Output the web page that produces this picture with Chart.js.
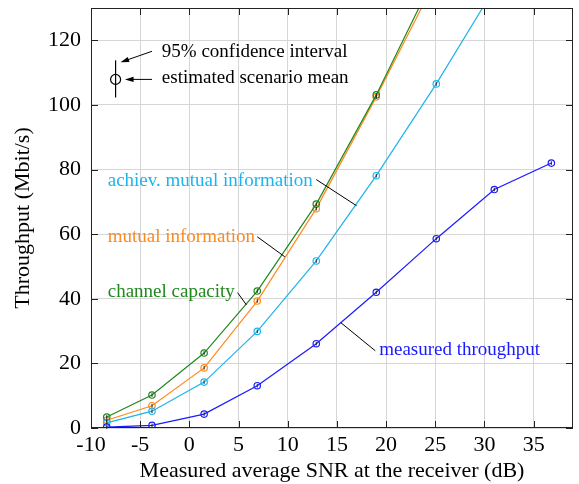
<!DOCTYPE html>
<html>
<head>
<meta charset="utf-8">
<script src="https://cdn.jsdelivr.net/npm/chart.js@4"></script>
<style>
  html, body { margin: 0; padding: 0; background: #fff; }
</style>
</head>
<body>
<canvas id="snrChart" width="579" height="484"></canvas>
<script>
'use strict';

// measured SNR per scenario (dB)
let snrValues = [-8.4, -3.8, 1.5, 6.9, 12.9, 19.0, 25.1, 31.0, 36.8];

// throughput curves (Mbit/s)
let measuredThroughput = [0.3, 0.8, 4.3, 13.1, 26.1, 42.0, 58.6, 73.8, 82.0];
let achievMutualInfo = [1.6, 5.2, 14.2, 29.9, 51.7, 78.1, 106.5, 136];
let mutualInfo = [2.4, 6.9, 18.6, 39.3, 67.9, 102.5, 139];
let channelCapacity = [3.4, 10.2, 23.2, 42.4, 69.3, 103.1, 141];

// axis ticks
let xTicks = [-10, -5, 0, 5, 10, 15, 20, 25, 30, 35];
let yTicks = [0, 20, 40, 60, 80, 100, 120];

let blue = '#1a1aff';
let lightBlue = '#1cb4ec';
let orange = '#ff8a1c';
let green = '#21871f';
let serif = '"Liberation Serif", "DejaVu Serif", serif';

function toPoints(values) {
    let pts = [];
    for (let i = 0; i < values.length; i++) {
        pts.push({ x: snrValues[i], y: values[i] });
    }
    return pts;
}

function makeSeries(label, values, color) {
    return {
        label: label,
        data: toPoints(values),
        borderColor: color,
        backgroundColor: '#fff',
        borderWidth: 1.2,
        pointRadius: 3.2,
        pointBorderWidth: 1.2,
        pointBackgroundColor: 'rgba(255,255,255,0)',
        pointBorderColor: color,
        tension: 0,
        clip: 0
    };
}

// curve labels and leader lines, in data units
let curveLabels = [
    { text: 'achiev. mutual information', color: lightBlue, x: -8.3, y: 76.6, from: [12.9, 76.9], to: [17.0, 68.8] },
    { text: 'mutual information', color: orange, x: -8.3, y: 59.2, from: [6.9, 59.2], to: [9.7, 53.0] },
    { text: 'channel capacity', color: green, x: -8.3, y: 42.2, from: [4.9, 41.9], to: [5.8, 38.1] },
    { text: 'measured throughput', color: blue, x: 19.3, y: 24.2, from: [15.4, 32.6], to: [18.9, 23.9] }
];

function arrow(ctx, x1, y1, x2, y2) {
    let ang = Math.atan2(y2 - y1, x2 - x1);
    let len = 9;
    ctx.beginPath();
    ctx.moveTo(x1, y1);
    ctx.lineTo(x2 - Math.cos(ang) * 4, y2 - Math.sin(ang) * 4);
    ctx.stroke();
    ctx.beginPath();
    ctx.moveTo(x2, y2);
    ctx.lineTo(x2 - len * Math.cos(ang - 0.3), y2 - len * Math.sin(ang - 0.3));
    ctx.lineTo(x2 - len * Math.cos(ang + 0.3), y2 - len * Math.sin(ang + 0.3));
    ctx.closePath();
    ctx.fill();
}

let decorations = {
    id: 'decorations',
    afterDatasetsDraw(chart) {
        let ctx = chart.ctx;
        let xs = chart.scales.x;
        let ys = chart.scales.y;
        let area = chart.chartArea;

        ctx.save();
        // small confidence bars inside every marker
        chart.data.datasets.forEach(function (ds, i) {
            let meta = chart.getDatasetMeta(i);
            ctx.strokeStyle = '#222';
            ctx.lineWidth = 1;
            meta.data.forEach(function (pt) {
                if (pt.y < area.top || pt.y > area.bottom) return;
                ctx.beginPath();
                ctx.moveTo(pt.x, pt.y - 1.8);
                ctx.lineTo(pt.x, pt.y + 1.8);
                ctx.stroke();
            });
        });

        // frame and inward ticks
        ctx.strokeStyle = '#222';
        ctx.lineWidth = 1;
        ctx.strokeRect(area.left + 0.5, area.top + 0.5, area.right - area.left - 1, area.bottom - area.top - 1);
        ctx.beginPath();
        xTicks.forEach(function (v) {
            let px = Math.round(xs.getPixelForValue(v)) + 0.5;
            ctx.moveTo(px, area.bottom);
            ctx.lineTo(px, area.bottom - 7);
            ctx.moveTo(px, area.top);
            ctx.lineTo(px, area.top + 7);
        });
        yTicks.forEach(function (v) {
            let py = Math.round(ys.getPixelForValue(v)) + 0.5;
            ctx.moveTo(area.left, py);
            ctx.lineTo(area.left + 7, py);
            ctx.moveTo(area.right, py);
            ctx.lineTo(area.right - 7, py);
        });
        ctx.stroke();

        // curve labels
        ctx.font = '19px ' + serif;
        ctx.textBaseline = 'middle';
        ctx.textAlign = 'left';
        curveLabels.forEach(function (lab) {
            ctx.fillStyle = lab.color;
            ctx.fillText(lab.text, xs.getPixelForValue(lab.x), ys.getPixelForValue(lab.y));
            ctx.strokeStyle = '#000';
            ctx.lineWidth = 1;
            ctx.beginPath();
            ctx.moveTo(xs.getPixelForValue(lab.from[0]), ys.getPixelForValue(lab.from[1]));
            ctx.lineTo(xs.getPixelForValue(lab.to[0]), ys.getPixelForValue(lab.to[1]));
            ctx.stroke();
        });

        // legend key for the marker symbol
        ctx.fillStyle = '#000';
        ctx.strokeStyle = '#000';
        ctx.lineWidth = 1.2;
        ctx.fillText('95% confidence interval', xs.getPixelForValue(-2.8), ys.getPixelForValue(116.3));
        ctx.fillText('estimated scenario mean', xs.getPixelForValue(-2.8), ys.getPixelForValue(108.2));
        let cx = xs.getPixelForValue(-7.5);
        let cy = ys.getPixelForValue(107.9);
        ctx.beginPath();
        ctx.moveTo(cx, ys.getPixelForValue(113.8));
        ctx.lineTo(cx, ys.getPixelForValue(102.3));
        ctx.stroke();
        ctx.beginPath();
        ctx.arc(cx, cy, 5, 0, Math.PI * 2);
        ctx.stroke();
        ctx.lineWidth = 1;
        arrow(ctx, xs.getPixelForValue(-3.8), ys.getPixelForValue(116.6), xs.getPixelForValue(-7.0), ys.getPixelForValue(113.2));
        arrow(ctx, xs.getPixelForValue(-3.8), cy, xs.getPixelForValue(-6.55), cy);
        ctx.restore();
    }
};

let ctx = document.getElementById('snrChart').getContext('2d');
new Chart(ctx, {
    type: 'line',
    data: {
        datasets: [
            makeSeries('measured throughput', measuredThroughput, blue),
            makeSeries('achiev. mutual information', achievMutualInfo, lightBlue),
            makeSeries('channel capacity', channelCapacity, green),
            makeSeries('mutual information', mutualInfo, orange)
        ]
    },
    plugins: [decorations],
    options: {
        responsive: false,
        animation: false,
        layout: { padding: { left: 0, right: 6, top: 8, bottom: 0 } },
        plugins: {
            legend: { display: false },
            tooltip: { enabled: false }
        },
        scales: {
            x: {
                type: 'linear',
                min: -10,
                max: 39,
                afterBuildTicks: function (scale) {
                    scale.ticks = xTicks.map(function (v) { return { value: v }; });
                },
                afterFit: function (scale) {
                    scale.height = 56;
                    scale.paddingLeft = 0;
                    scale.paddingRight = 0;
                },
                grid: { color: '#d6d6d6', lineWidth: 1, drawTicks: false },
                border: { display: false },
                ticks: {
                    color: '#000',
                    padding: 4,
                    maxRotation: 0,
                    font: { family: serif, size: 22 }
                },
                title: {
                    display: true,
                    text: 'Measured average SNR at the receiver (dB)',
                    color: '#000',
                    padding: { top: 0, bottom: 0 },
                    font: { family: serif, size: 22 }
                }
            },
            y: {
                type: 'linear',
                min: 0,
                max: 130,
                afterBuildTicks: function (scale) {
                    scale.ticks = yTicks.map(function (v) { return { value: v }; });
                },
                afterFit: function (scale) {
                    scale.width = 91;
                    scale.paddingTop = 0;
                    scale.paddingBottom = 0;
                },
                grid: { color: '#d6d6d6', lineWidth: 1, drawTicks: false },
                border: { display: false },
                ticks: {
                    color: '#000',
                    padding: 10,
                    font: { family: serif, size: 22 }
                },
                title: {
                    display: true,
                    text: 'Throughput (Mbit/s)',
                    color: '#000',
                    padding: { top: 10, bottom: 0 },
                    font: { family: serif, size: 22 }
                }
            }
        }
    }
});
</script>
</body>
</html>
